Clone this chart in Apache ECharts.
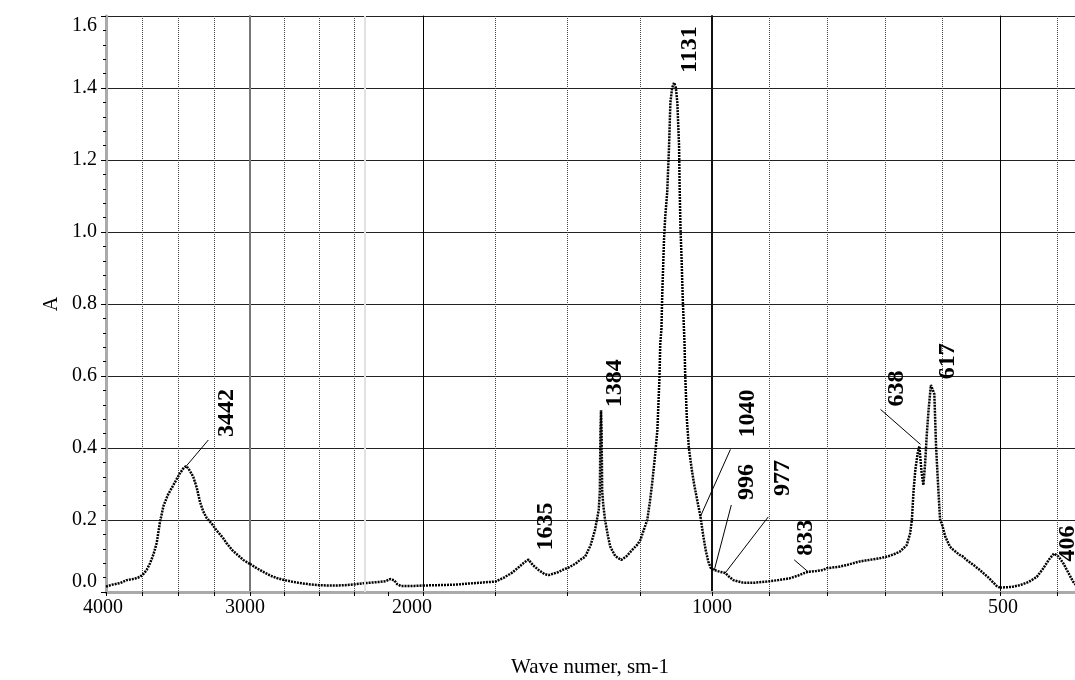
<!DOCTYPE html>
<html>
<head>
<meta charset="utf-8">
<script src="https://cdn.jsdelivr.net/npm/echarts@6/dist/echarts.min.js"></script>
<style>html,body{margin:0;padding:0;background:#fff}#c{width:1075px;height:680px}</style>
</head>
<body>
<div id="c"></div>
<script>
// ---------- DATA ----------
const wavenumber = [
  4000,3960,3900,3856,3800,3764,3740,3718,3694,3670,3648,3625,3600,3570,3535,3486,3460,3442,3420,3394,
  3370,3347,3326,3300,3266,3230,3187,3162,3120,3069,3047,3000,
  2961,2920,2880,2840,2800,2750,2700,2650,2600,2550,2500,2450,2400,2350,2300,2250,2215,2190,2179,2165,
  2150,2130,2100,2050,2000,
  1950,1900,1878,1850,1800,1749,1720,1693,1670,1650,1635,1620,1600,1580,1565,1545,1533,1515,1496,1470,
  1455,1439,1420,1405,1396,1392,1388,1386,1384,1382,1380,1376,1370,1360,1352,1335,1314,1295,1276,1260,
  1248,1235,1224,1215,1207,1197,1189,1182,1179,1175,1172,1166,1162,1155,1149,1144,1138,1131,1125,1120,
  1114,1112,1109,1105,1101,1095,1093,1087,1080,1070,1062,1050,1040,1030,1022,1013,1005,1000,
  996,986,977,970,963,946,925,905,885,865,850,841,833,820,807,801,780,766,743,720,708,690,674,662,656,
  653,650,647,643,640,638,636,633,630,627,624,620,617,614,611,607,604,601,595,587,581,570,564,558,546,
  535,520,506,500,
  497,480,465,450,436,425,415,406,398,390,380,373,368
];
const absorbance = [
  0.015,0.02,0.025,0.033,0.037,0.042,0.05,0.061,0.08,0.105,0.136,0.195,0.24,0.27,0.295,0.33,0.345,0.35,0.338,0.32,
  0.29,0.25,0.225,0.205,0.19,0.17,0.15,0.135,0.115,0.097,0.089,0.078,
  0.066,0.055,0.045,0.038,0.033,0.028,0.024,0.021,0.019,0.018,0.018,0.019,0.021,0.024,0.026,0.028,0.03,0.036,0.038,0.032,
  0.022,0.017,0.017,0.017,0.018,
  0.019,0.02,0.021,0.023,0.026,0.029,0.04,0.053,0.068,0.082,0.09,0.075,0.061,0.05,0.047,0.052,0.055,0.062,0.068,0.08,
  0.09,0.098,0.13,0.172,0.21,0.228,0.28,0.45,0.505,0.45,0.28,0.24,0.2,0.155,0.126,0.1,0.089,0.1,0.117,0.13,
  0.144,0.175,0.2,0.25,0.302,0.38,0.45,0.59,0.69,0.73,0.83,0.98,1.04,1.11,1.23,1.36,1.40,1.415,1.40,1.36,
  1.24,1.125,1.01,0.92,0.81,0.69,0.61,0.48,0.40,0.34,0.30,0.25,0.21,0.155,0.117,0.085,0.068,0.064,
  0.061,0.056,0.053,0.042,0.033,0.026,0.026,0.029,0.033,0.038,0.046,0.052,0.056,0.058,0.061,0.066,0.07,0.075,0.085,0.091,0.094,0.101,0.112,0.13,0.163,
  0.2,0.283,0.339,0.385,0.405,0.41,0.33,0.297,0.357,0.44,0.506,0.575,0.58,0.55,0.404,0.283,0.2,0.19,0.154,0.126,0.117,0.103,0.098,0.089,0.075,
  0.061,0.04,0.017,0.012,
  0.01,0.014,0.019,0.028,0.042,0.065,0.09,0.107,0.098,0.08,0.05,0.029,0.02
];
const peakLabels      = ['3442','1635','1384','1131','1040','996','977','833','638','617','406'];
const peakWavenumber  = [3442, 1635, 1384, 1131, 1040, 996, 977, 833, 638, 617, 406];
const peakAbsorbance  = [0.35, 0.09, 0.505, 1.415, 0.21, 0.061, 0.053, 0.056, 0.41, 0.58, 0.107];
const axisSegments    = [[4000,3000],[3000,2000],[2000,1000],[1000,500],[500,300]];
const segmentTickStep = [250, 200, 250, 100, 100];
const xTickLabels     = ['4000','3000','2000','1000','500'];
const faintLines      = [2335];
const yMin = 0, yMax = 1.6, yStep = 0.2;

// ---------- LAYOUT / STYLE ----------
const FONT = '"Liberation Serif","Times New Roman",serif';
const gridTop = 16, gridBottom = 88;
const segLayout = [
  {left:106, width:144}, {left:250, width:173}, {left:423, width:289},
  {left:712, width:288}, {left:1000, width:115}
];
const boundaryLine = [
  {color:'#aaa', width:3}, {color:'#777', width:2}, {color:'#000', width:1},
  {color:'#111', width:2}, {color:'#000', width:1}
];
const labelPad = [[0,6],[0,10],[0,22],[0,0],[6,0]];
const splitColors = [
  '#444',
  ['#444','rgba(0,0,0,0)','#444','#444','#444','#444'],
  '#444', '#444', '#444'
];
// offsets (px) of leader end and label centre from the peak point
const peakStyle = {
  '3442': {leader:[22,-26], text:[40,-53]},
  '1635': {text:[17,-33]},
  '1384': {text:[14,-27]},
  '1131': {text:[16,-33]},
  '1040': {leader:[30,-67], text:[47,-103]},
  '996':  {leader:[17,-65], text:[32,-88]},
  '977':  {leader:[43,-56], text:[58,-95]},
  '833':  {leader:[-14,-12], text:[-2,-34]},
  '638':  {leader:[-40,-35], text:[-24,-56]},
  '617':  {text:[15,-22]},
  '406':  {text:[14,-10]}
};

function renderPeak(params, api) {
  const idx = api.value(2);
  const p = api.coord([api.value(0), api.value(1)]);
  const st = peakStyle[peakLabels[idx]];
  const children = [];
  if (st.leader) {
    children.push({type:'line', shape:{x1:p[0], y1:p[1], x2:p[0]+st.leader[0], y2:p[1]+st.leader[1]},
      style:{stroke:'#000', lineWidth:1}});
  }
  children.push({type:'text', x:p[0]+st.text[0], y:p[1]+st.text[1], rotation:Math.PI/2,
    style:{text:peakLabels[idx], fill:'#000', font:'bold 24px ' + FONT, align:'center', verticalAlign:'middle'}});
  return {type:'group', children};
}

const grids = [], xAxes = [], yAxes = [], series = [];
axisSegments.forEach((seg, i) => {
  const [hi, lo] = seg;
  grids.push({left:segLayout[i].left, width:segLayout[i].width, top:gridTop, bottom:gridBottom,
    containLabel:false, outerBoundsMode:'none'});
  xAxes.push({
    gridIndex:i, type:'value', inverse:true, min:lo, max:hi, interval:segmentTickStep[i],
    axisLine:{show:true, onZero:false, lineStyle:{color:'#aaa', width:3}},
    axisTick:{show:true, length:4, lineStyle:{color:'#000'}},
    axisLabel:{
      show:true, margin:6, showMinLabel:true, showMaxLabel:true,
      formatter: v => (v === hi ? '{t|' + xTickLabels[i] + '}' : ''),
      rich:{t:{fontFamily:FONT, fontSize:20, color:'#000', padding:[0, labelPad[i][1], 0, labelPad[i][0]]}}
    },
    splitLine:{show:true, lineStyle:{type:'dotted', color:splitColors[i], width:1}}
  });
  yAxes.push({
    gridIndex:i, type:'value', min:yMin, max:yMax, interval:yStep,
    axisLine:{show:true, onZero:false, lineStyle:boundaryLine[i]},
    axisTick:{show:i===0, length:5, lineStyle:{color:'#000'}},
    minorTick:{show:i===0, splitNumber:5, length:3, lineStyle:{color:'#000'}},
    axisLabel:{
      show:i===0, margin:9, color:'#000', fontFamily:FONT, fontSize:20,
      formatter: v => v.toFixed(1),
      verticalAlignMinLabel:'bottom', verticalAlignMaxLabel:'top'
    },
    splitLine:{show:true, showMinLine:false, lineStyle:{color:'#222', width:1}},
    name: i===0 ? 'A' : '', nameLocation:'middle', nameGap:44, nameRotate:90,
    nameTextStyle:{fontFamily:FONT, fontSize:20, color:'#000'}
  });
  const pts = [];
  wavenumber.forEach((w, k) => { if (w <= hi && w >= lo) pts.push([w, absorbance[k]]); });
  const lineSeries = {
    type:'line', xAxisIndex:i, yAxisIndex:i, data:pts, showSymbol:false, symbol:'none',
    lineStyle:{color:'#000', width:2.5, type:[2,1]}, z:3, silent:true
  };
  const faint = faintLines.filter(f => f < hi && f > lo);
  if (faint.length) {
    lineSeries.markLine = {silent:true, symbol:'none', label:{show:false},
      lineStyle:{color:'#e2e2e2', width:2, type:'solid'}, data:faint.map(f => ({xAxis:f}))};
  }
  series.push(lineSeries);
  const peaks = [];
  peakWavenumber.forEach((w, k) => { if (w < hi && w >= lo) peaks.push([w, peakAbsorbance[k], k]); });
  if (peaks.length) {
    series.push({type:'custom', xAxisIndex:i, yAxisIndex:i, data:peaks, clip:false, z:5, silent:true,
      dimensions:['nu','abs','idx'], encode:{x:0, y:1}, renderItem:renderPeak});
  }
});

const chart = echarts.init(document.getElementById('c'), null, {renderer:'canvas'});
chart.setOption({
  animation:false,
  backgroundColor:'#fff',
  grid:grids, xAxis:xAxes, yAxis:yAxes, series:series,
  graphic:[{type:'text', x:590, y:667, style:{text:'Wave numer, sm-1', fill:'#000',
    font:'21px ' + FONT, align:'center', verticalAlign:'middle'}}]
});
</script>
</body>
</html>
